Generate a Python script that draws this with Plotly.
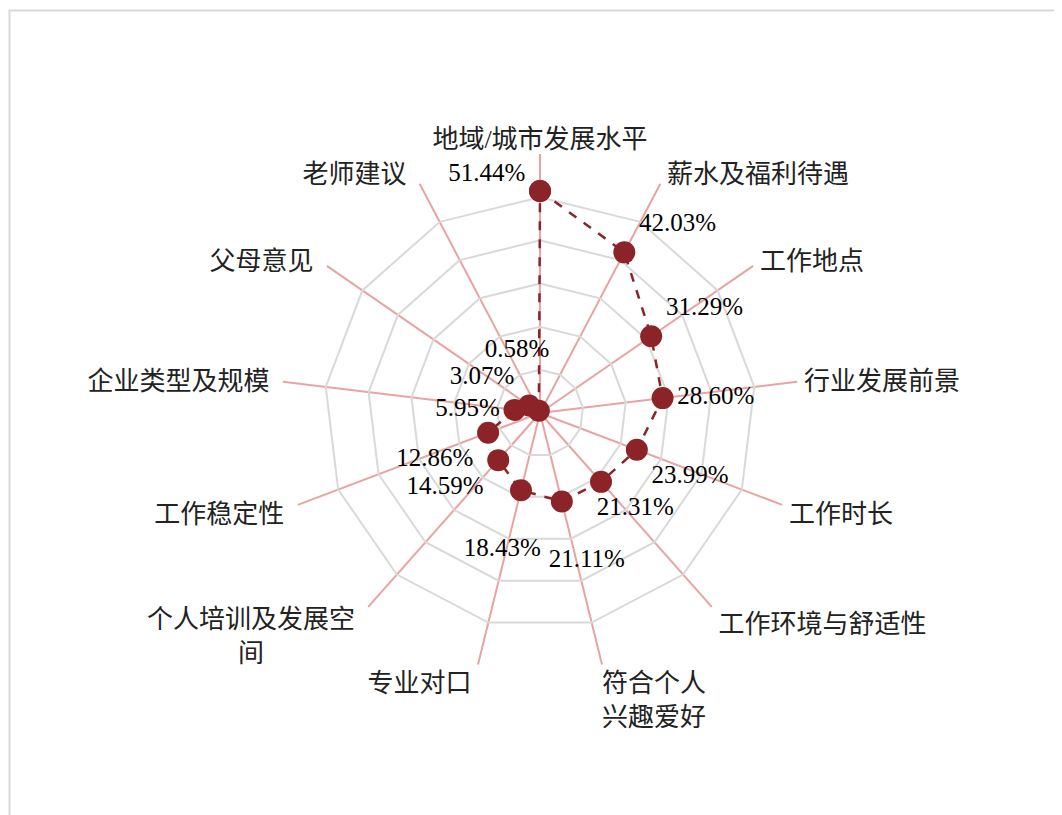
import plotly.graph_objects as go

NB = "\u00a0"
IS = "\u3000"

categories = ["地域/城市发展水平",
              NB + "薪水及福利待遇",
              NB + "工作地点",
              NB + "行业发展前景",
              NB + "工作时长",
              NB + "工作环境与舒适性",
              "符合个人<br>兴趣爱好",
              "专业对口" + NB,
              "个人培训及发展空" + NB * 2 + "<br>间" + IS * 3 + NB * 4,
              "工作稳定性" + NB * 2,
              "企业类型及规模" + NB * 2,
              "父母意见" + NB * 2,
              "老师建议" + NB * 2]
values = [51.44, 42.03, 31.29, 28.60, 23.99, 21.31, 21.11, 18.43, 14.59, 12.86, 5.95, 3.07, 0.58]
labels = ["51.44%<br> ", "42.03%", "31.29%", "28.60%", "23.99%",
          NB * 11 + "21.31%", "<br>" + NB * 8 + "21.11%",
          "<br>18.43%" + NB * 6, "14.59%", "12.86%", "5.95%", "3.07%",
          "0.58%" + NB * 7 + "<br> "]
text_pos = ["middle left", "top right", "top right", "middle right", "bottom right", "bottom center",
            "bottom center", "bottom center", "bottom left", "bottom left", "middle left",
            "top left", "top center"]

# page has an 8px body margin, so figure coordinates are shifted by 8px
W, H = 1054, 807
cx, cy, R = 532, 405, 259

fig = go.Figure()
fig.add_trace(go.Scatterpolar(
    r=values + [values[0]],
    theta=categories + [categories[0]],
    mode="lines+markers+text",
    line=dict(color="#8B2328", width=2.5, dash="dash"),
    marker=dict(color="#8B2328", size=22),
    text=labels + [""],
    textposition=text_pos + ["top left"],
    textfont=dict(family="Liberation Serif, Times New Roman, serif", size=25, color="#000000"),
    cliponaxis=False,
    showlegend=False,
))

fig.update_layout(
    width=W, height=H,
    margin=dict(l=0, r=0, t=0, b=0),
    paper_bgcolor="white",
    plot_bgcolor="white",
    polar=dict(
        domain=dict(x=[(cx - R) / W, (cx + R) / W], y=[(H - cy - R) / H, (H - cy + R) / H]),
        gridshape="linear",
        bgcolor="white",
        radialaxis=dict(range=[0, 60], dtick=10, showticklabels=False, ticks="",
                        showline=False, gridcolor="#D9D9D9", gridwidth=1.5),
        angularaxis=dict(direction="clockwise", rotation=90, showline=False,
                         gridcolor="#E8A3A3", gridwidth=1.5, ticks="",
                         tickfont=dict(family="Liberation Serif, Noto Sans CJK SC, serif",
                                       size=26, color="#222222")),
    ),
    shapes=[dict(type="rect", xref="paper", yref="paper",
                 x0=1.5 / W, x1=1.02, y0=-0.02, y1=(H - 2.5) / H,
                 line=dict(color="#D9D9D9", width=2), fillcolor="rgba(0,0,0,0)", layer="below")],
)

fig.write_html("out.html")
